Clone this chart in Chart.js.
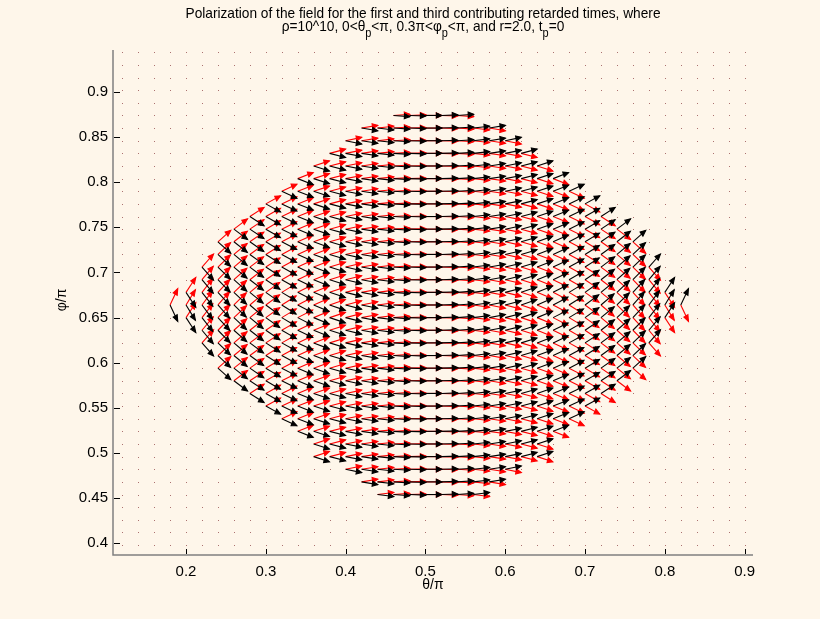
<!DOCTYPE html>
<html lang="en">
<head>
    <meta charset="UTF-8">
    <title>Polarization of the field</title>
    <script src="https://cdn.jsdelivr.net/npm/chart.js@4.4.0/dist/chart.umd.min.js"></script>
    <style>
        html, body { margin: 0; padding: 0; background: #fef6ea; overflow: hidden; }
        #chart-container { position: relative; width: 820px; height: 619px; }
    </style>
</head>
<body>
<div id="chart-container">
    <canvas id="myChart" width="820" height="619"></canvas>
</div>

<script>
    // sample grid of the quiver plot (theta/pi and phi/pi)
    const thetaGrid = [0.12, 0.14, 0.16, 0.18, 0.20, 0.22, 0.24, 0.26, 0.28, 0.30, 0.32, 0.34, 0.36, 0.38,
        0.40, 0.42, 0.44, 0.46, 0.48, 0.50, 0.52, 0.54, 0.56, 0.58, 0.60, 0.62, 0.64, 0.66, 0.68, 0.70,
        0.72, 0.74, 0.76, 0.78, 0.80, 0.82, 0.84, 0.86, 0.88, 0.90];
    const phiGrid = [0.398, 0.412, 0.426, 0.440, 0.454, 0.468, 0.482, 0.496, 0.510, 0.524, 0.538, 0.552,
        0.566, 0.580, 0.594, 0.608, 0.622, 0.636, 0.650, 0.664, 0.678, 0.692, 0.706, 0.720, 0.734, 0.748,
        0.762, 0.776, 0.790, 0.804, 0.818, 0.832, 0.846, 0.860, 0.874, 0.888, 0.902, 0.916, 0.930, 0.944];

    // rows that carry field vectors, with the theta span of each row
    const rowPhi = [0.874, 0.860, 0.846, 0.832, 0.818, 0.804, 0.790, 0.776, 0.762, 0.748, 0.734, 0.720,
        0.706, 0.692, 0.678, 0.664, 0.650, 0.636, 0.622, 0.608, 0.594, 0.580, 0.566, 0.552, 0.538, 0.524,
        0.510, 0.496, 0.482, 0.468, 0.454];
    const rowThetaMin = [0.46, 0.42, 0.40, 0.38, 0.36, 0.34, 0.32, 0.30, 0.28, 0.26, 0.24, 0.24,
        0.22, 0.22, 0.20, 0.18, 0.20, 0.22, 0.22, 0.24, 0.24, 0.26, 0.28, 0.30, 0.32, 0.34,
        0.36, 0.36, 0.40, 0.42, 0.44];
    const rowThetaMax = [0.54, 0.58, 0.60, 0.62, 0.64, 0.66, 0.68, 0.70, 0.72, 0.74, 0.76, 0.76,
        0.78, 0.78, 0.80, 0.82, 0.80, 0.78, 0.78, 0.76, 0.76, 0.74, 0.72, 0.70, 0.68, 0.66,
        0.64, 0.64, 0.60, 0.58, 0.56];

    // tilt of the vectors (deg) by |theta-0.5| in grid steps, read on the middle row
    const tiltByOffset = [0, 2, 4, 7, 10, 13, 17, 21, 25, 29, 33, 37, 41, 45, 50, 55, 62];
    // how much of that tilt each row shows
    const rowTiltScale = [0.9, 0.84, 0.8, 0.77, 0.76, 0.76, 0.77, 0.78, 0.8, 0.82, 0.85, 0.88,
        0.9, 0.93, 0.97, 1.0, 0.97, 0.93, 0.9, 0.88, 0.85, 0.82, 0.8, 0.78, 0.77, 0.76,
        0.76, 0.77, 0.8, 0.84, 0.9];

    const xTicks = [0.2, 0.3, 0.4, 0.5, 0.6, 0.7, 0.8, 0.9];
    const xTickLabels = ['0.2', '0.3', '0.4', '0.5', '0.6', '0.7', '0.8', '0.9'];
    const yTicks = [0.4, 0.45, 0.5, 0.55, 0.6, 0.65, 0.7, 0.75, 0.8, 0.85, 0.9];
    const yTickLabels = ['0.4', '0.45', '0.5', '0.55', '0.6', '0.65', '0.7', '0.75', '0.8', '0.85', '0.9'];

    const arrowLength = 0.0205;   // data units
    const headAlpha = 0.33;
    const headBeta = 0.42;

    // build datasets
    let blackArrows = [];
    let redArrows = [];
    let dots = [];
    let taken = {};

    rowPhi.forEach(function (phi, i) {
        thetaGrid.forEach(function (th) {
            if (th < rowThetaMin[i] - 1e-6 || th > rowThetaMax[i] + 1e-6) return;
            let idx = Math.round(Math.abs(th - 0.5) / 0.02);
            let tilt = tiltByOffset[idx] * rowTiltScale[i];
            let a = th >= 0.5 ? tilt : -tilt;
            blackArrows.push({x: th, y: phi, a: a});
            redArrows.push({x: th, y: phi, a: -a});
            taken[th.toFixed(2) + '_' + phi.toFixed(3)] = true;
        });
    });
    phiGrid.forEach(function (phi) {
        thetaGrid.forEach(function (th) {
            if (!taken[th.toFixed(2) + '_' + phi.toFixed(3)]) dots.push({x: th, y: phi});
        });
    });

    const quiverPlugin = {
        id: 'quiver',
        beforeDraw(chart) {
            const ctx = chart.ctx;
            ctx.save();
            ctx.fillStyle = '#fef6ea';
            ctx.fillRect(0, 0, chart.width, chart.height);
            ctx.restore();
        },
        afterDatasetsDraw(chart) {
            const ctx = chart.ctx;
            const xs = chart.scales.x, ys = chart.scales.y;
            ctx.save();
            chart.data.datasets.forEach(function (ds, i) {
                const meta = chart.getDatasetMeta(i);
                if (ds.kind === 'dots') {
                    ctx.fillStyle = ds.dotColor;
                    meta.data.forEach(function (pt) {
                        ctx.fillRect(Math.round(pt.x), Math.round(pt.y), 1, 1);
                    });
                    return;
                }
                ctx.strokeStyle = ds.arrowColor;
                ctx.fillStyle = ds.arrowColor;
                ctx.lineWidth = 1.1;
                ctx.lineJoin = 'miter';
                ds.data.forEach(function (d) {
                    const r = d.a * Math.PI / 180;
                    const u = arrowLength * Math.cos(r), v = arrowLength * Math.sin(r);
                    const x1 = d.x + u, y1 = d.y + v;
                    const h1x = x1 - headAlpha * (u + headBeta * v), h1y = y1 - headAlpha * (v - headBeta * u);
                    const h2x = x1 - headAlpha * (u - headBeta * v), h2y = y1 - headAlpha * (v + headBeta * u);
                    ctx.beginPath();
                    ctx.moveTo(xs.getPixelForValue(d.x), ys.getPixelForValue(d.y));
                    ctx.lineTo(xs.getPixelForValue(x1), ys.getPixelForValue(y1));
                    ctx.stroke();
                    ctx.beginPath();
                    ctx.moveTo(xs.getPixelForValue(h1x), ys.getPixelForValue(h1y));
                    ctx.lineTo(xs.getPixelForValue(x1), ys.getPixelForValue(y1));
                    ctx.lineTo(xs.getPixelForValue(h2x), ys.getPixelForValue(h2y));
                    ctx.closePath();
                    ctx.fill();
                    ctx.stroke();
                });
            });
            ctx.restore();
        },
        afterDraw(chart) {
            const ctx = chart.ctx;
            const xs = chart.scales.x, ys = chart.scales.y;
            const area = chart.chartArea;
            ctx.save();

            // axes lines
            ctx.strokeStyle = '#808080';
            ctx.lineWidth = 1.5;
            ctx.beginPath();
            ctx.moveTo(area.left, area.top);
            ctx.lineTo(area.left, area.bottom);
            ctx.lineTo(area.right, area.bottom);
            ctx.stroke();

            // inward ticks
            ctx.strokeStyle = '#000';
            ctx.lineWidth = 1;
            ctx.beginPath();
            xTicks.forEach(function (t) {
                const px = Math.round(xs.getPixelForValue(t)) + 0.5;
                ctx.moveTo(px, area.bottom - 1);
                ctx.lineTo(px, area.bottom - 6);
            });
            yTicks.forEach(function (t) {
                const py = Math.round(ys.getPixelForValue(t)) + 0.5;
                ctx.moveTo(area.left + 1, py);
                ctx.lineTo(area.left + 7, py);
            });
            ctx.stroke();

            // axis titles
            ctx.fillStyle = '#000';
            ctx.font = '14px "Liberation Sans", Arial, sans-serif';
            ctx.textAlign = 'center';
            ctx.textBaseline = 'middle';
            ctx.fillText('θ/π', (area.left + area.right) / 2, 585);
            ctx.save();
            ctx.translate(62, 300);
            ctx.rotate(-Math.PI / 2);
            ctx.fillText('φ/π', 0, 0);
            ctx.restore();

            // title, condensed like the original
            const line1 = 'Polarization of the field for the first and third contributing retarded times, where';
            const parts2 = [['ρ=10^10, 0<θ', 0], ['p', 1], ['<π, 0.3π<φ', 0], ['p', 1], ['<π, and r=2.0, t', 0], ['p', 1], ['=0', 0]];
            const mainFont = '15px "Liberation Sans", Arial, sans-serif';
            const subFont = '12px "Liberation Sans", Arial, sans-serif';
            ctx.textBaseline = 'alphabetic';
            ctx.font = mainFont;
            const w1 = ctx.measureText(line1).width;
            const sx = 475 / w1;
            const cx = 423;

            ctx.save();
            ctx.translate(cx, 18);
            ctx.scale(sx, 1);
            ctx.textAlign = 'center';
            ctx.fillText(line1, 0, 0);
            ctx.restore();

            let total = 0;
            parts2.forEach(function (p) {
                ctx.font = p[1] ? subFont : mainFont;
                total += ctx.measureText(p[0]).width;
            });
            ctx.save();
            ctx.translate(cx, 31);
            ctx.scale(sx, 1);
            ctx.textAlign = 'left';
            let xx = -total / 2;
            parts2.forEach(function (p) {
                ctx.font = p[1] ? subFont : mainFont;
                ctx.fillText(p[0], xx, p[1] ? 6 : 0);
                xx += ctx.measureText(p[0]).width;
            });
            ctx.restore();

            ctx.restore();
        }
    };

    const tickFont = {family: '"Liberation Sans", Arial, sans-serif', size: 15};

    const config = {
        type: 'scatter',
        data: {
            datasets: [
                {kind: 'dots', data: dots, dotColor: 'rgba(150,80,80,0.8)', pointRadius: 0},
                {kind: 'arrows', data: redArrows, arrowColor: '#ff0000', pointRadius: 0},
                {kind: 'arrows', data: blackArrows, arrowColor: '#000000', pointRadius: 0}
            ]
        },
        options: {
            responsive: false,
            animation: false,
            devicePixelRatio: 1,
            layout: {padding: {left: 0, right: 67, top: 50, bottom: 0}},
            plugins: {
                legend: {display: false},
                tooltip: {enabled: false},
                title: {display: false}
            },
            scales: {
                x: {
                    type: 'linear',
                    min: 0.1085,
                    max: 0.9105,
                    grid: {display: false, drawTicks: false},
                    border: {display: false},
                    afterBuildTicks: function (scale) {
                        scale.ticks = xTicks.map(function (v) { return {value: v}; });
                    },
                    afterFit: function (scale) { scale.height = 64; },
                    ticks: {
                        autoSkip: false,
                        maxRotation: 0,
                        padding: 8,
                        color: '#000',
                        font: tickFont,
                        callback: function (value, index) { return xTickLabels[index]; }
                    }
                },
                y: {
                    type: 'linear',
                    min: 0.387,
                    max: 0.9465,
                    grid: {display: false, drawTicks: false},
                    border: {display: false},
                    afterBuildTicks: function (scale) {
                        scale.ticks = yTicks.map(function (v) { return {value: v}; });
                    },
                    afterFit: function (scale) { scale.width = 113; },
                    ticks: {
                        autoSkip: false,
                        padding: 5,
                        color: '#000',
                        font: tickFont,
                        callback: function (value, index) { return yTickLabels[index]; }
                    }
                }
            }
        },
        plugins: [quiverPlugin]
    };

    let myChart = new Chart(document.getElementById('myChart'), config);
</script>
</body>
</html>
